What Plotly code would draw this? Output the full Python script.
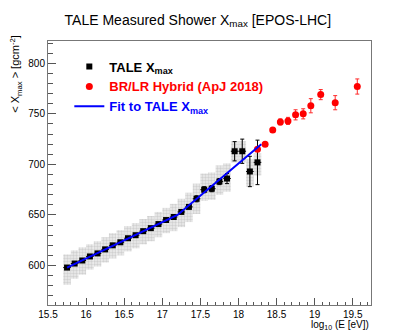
import plotly.graph_objects as go

# TALE Xmax points (log10 E bin centres), stat errors and systematic band
tale_x = [15.75, 15.85, 15.95, 16.05, 16.15, 16.25, 16.35, 16.45, 16.55, 16.65,
          16.75, 16.85, 16.95, 17.05, 17.15, 17.25, 17.35, 17.45, 17.55, 17.65,
          17.75, 17.85, 17.95, 18.05, 18.15, 18.25]
tale_y = [598, 602, 605, 609, 612, 616, 620, 623, 627, 630,
          634, 637, 641, 645, 648, 653, 658, 666, 675, 676,
          683, 686, 713, 713, 693, 702]
tale_stat = [1.5, 1, 1, 1, 1, 1, 1, 1, 1, 1,
             1, 1, 1, 1, 1, 1.5, 2, 3, 3, 3,
             3, 5, 9.5, 12, 15, 22]
sys_up = [13, 13, 13, 12, 12, 12, 12, 12, 12, 12,
          12, 12, 12, 12, 13, 13, 14, 15, 16, 16,
          16, 15, 10, 10, 12, 9]
sys_dn = [17, 15, 14, 13, 13, 13, 13, 13, 13, 13,
          13, 13, 13, 13, 14, 15, 15, 15, 11, 11,
          13, 13, 11, 11, 15, 13]

# BR/LR hybrid (ApJ 2018)
hyb_x = [18.25, 18.35, 18.45, 18.55, 18.65, 18.75, 18.85, 18.95, 19.08, 19.27, 19.56]
hyb_y = [715, 720, 734, 742, 743, 749, 750, 758, 769, 761, 777]
hyb_err = [1.5, 1.5, 2, 3, 3.5, 5, 5, 7, 5, 7, 7.5]

# broken-line fit to TALE
fit_x = [15.75, 17.2, 18.3]
fit_y = [598, 650, 720]

FONT = "Liberation Sans, Arial, Helvetica, sans-serif"

fig = go.Figure()

# systematic band as boxes (ROOT-like dotted fill)
fig.add_trace(go.Bar(
    x=tale_x,
    y=[u + d for u, d in zip(sys_up, sys_dn)],
    base=[y - d for y, d in zip(tale_y, sys_dn)],
    width=0.1,
    marker=dict(
        color="#dcdcdc",
        line_width=0,
        pattern=dict(shape=".", fgcolor="#b4b4b4", bgcolor="#ececec", size=3, solidity=0.5),
    ),
    showlegend=False,
    hoverinfo="skip",
))

fig.add_trace(go.Scatter(
    x=tale_x, y=tale_y, mode="markers",
    name="<b>TALE X<sub>max</sub></b>",
    marker=dict(symbol="square", size=6, color="black"),
    error_y=dict(type="data", array=tale_stat, color="black", thickness=1, width=2),
    error_x=dict(type="constant", value=0.05, color="black", thickness=1, width=0),
    legendrank=1,
))

fig.add_trace(go.Scatter(
    x=hyb_x, y=hyb_y, mode="markers",
    name="<span style='color:#ff0000'><b>BR/LR Hybrid (ApJ 2018)</b></span>",
    marker=dict(symbol="circle", size=7, color="#ff0000"),
    error_y=dict(type="data", array=hyb_err, color="#ff2a2a", thickness=1, width=2),
    legendrank=2,
))

fig.add_trace(go.Scatter(
    x=fit_x, y=fit_y, mode="lines",
    name="<span style='color:#0000ff'><b>Fit to TALE X<sub>max</sub></b></span>",
    line=dict(color="#0000ff", width=2),
    legendrank=3,
))

fig.update_layout(
    width=403,
    height=332,
    plot_bgcolor="white",
    paper_bgcolor="white",
    font=dict(family=FONT, size=10, color="black"),
    barmode="overlay",
    margin=dict(l=40, r=40, t=33, b=35),
    title=dict(
        text="TALE Measured Shower X<sub>max</sub> [EPOS-LHC]",
        x=0.471, xref="container", xanchor="center",
        y=0.965, yref="container", yanchor="middle",
        font=dict(size=14, family=FONT),
    ),
    legend=dict(
        x=0.066, y=0.96, xanchor="left", yanchor="top",
        bgcolor="rgba(0,0,0,0)",
        font=dict(size=13, family=FONT),
        tracegroupgap=0,
        traceorder="normal",
    ),
)

fig.update_xaxes(
    range=[15.5, 19.74],
    tick0=15.5, dtick=0.5,
    ticks="inside", ticklen=7, tickcolor="#555",
    minor=dict(dtick=0.1, ticks="inside", ticklen=3.5, tickcolor="#555"),
    showline=True, linecolor="#777", linewidth=1, mirror=True,
    showgrid=False, zeroline=False,
    tickfont=dict(size=10),
)
fig.update_yaxes(
    range=[561, 822],
    tick0=600, dtick=50,
    ticks="inside", ticklen=8, tickcolor="#555",
    minor=dict(dtick=10, ticks="inside", ticklen=5, tickcolor="#555"),
    showline=True, linecolor="#777", linewidth=1, mirror=True,
    showgrid=False, zeroline=False,
    tickfont=dict(size=10),
)

# ROOT-style axis titles, aligned to the axis ends
fig.add_annotation(
    text="< X<sub>max</sub> > [gcm<sup>-2</sup>]",
    textangle=-90, showarrow=False,
    xref="paper", yref="paper", x=-0.1, y=1.03,
    xanchor="center", yanchor="top",
    font=dict(size=11),
)
fig.add_annotation(
    text="log<sub>10</sub> (E [eV])",
    showarrow=False,
    xref="paper", yref="paper", x=1.0, y=0, yshift=-12,
    xanchor="right", yanchor="top",
    font=dict(size=10),
)

fig.write_html("out.html")
